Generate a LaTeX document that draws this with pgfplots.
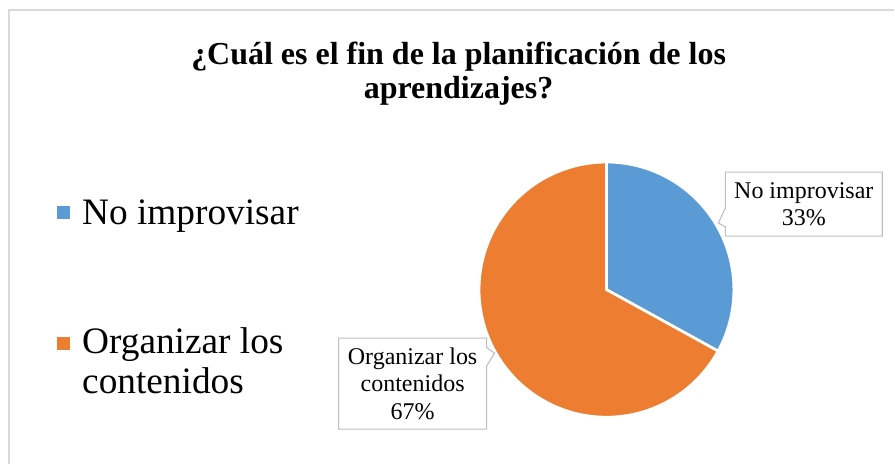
\documentclass[border=0pt]{standalone}
\usepackage{pgfplots}
\pgfplotsset{compat=1.18}
\usepackage{pgfplotstable}
\usepackage{fontspec}
\setmainfont{Liberation Serif}
\usetikzlibrary{shapes.callouts}
\definecolor{cblue}{HTML}{5B9BD5}
\definecolor{corange}{HTML}{ED7D31}
\definecolor{cframe}{HTML}{D9D9D9}
\definecolor{cbox}{HTML}{BFBFBF}
% data: percentage of answers
\pgfplotstableread{
label value
NoImprovisar 33
Organizar 67
}\piedata
\pgfplotstablegetelem{0}{value}\of\piedata \let\valA\pgfplotsretval
\pgfplotstablegetelem{1}{value}\of\piedata \let\valB\pgfplotsretval
\pgfmathsetmacro{\angA}{90-360*\valA/(\valA+\valB)}
\begin{document}
\begin{tikzpicture}
\begin{axis}[
  scale only axis, width=671.25pt, height=348pt,
  xmin=0, xmax=895, ymin=0, ymax=464,
  hide axis, clip=false,
]
\path (axis cs:0,0) rectangle (axis cs:895,464);
% frame
\draw[cframe, line width=1.2pt] (axis cs:9,0) -- (axis cs:9,454) -- (axis cs:895,454);
% pie slices
\addplot[fill=cblue, draw=white, line width=2pt, domain=\angA:90, samples=90]
  ({607+127.5*cos(x)},{174.5+127.5*sin(x)}) -- (axis cs:607,174.5) -- cycle;
\addplot[fill=corange, draw=white, line width=2pt, domain=-270:\angA, samples=150]
  ({607+127.5*cos(x)},{174.5+127.5*sin(x)}) -- (axis cs:607,174.5) -- cycle;
% title
\node[font=\fontsize{24}{25}\selectfont\bfseries, align=center, anchor=base]
  at (axis cs:459,366) {¿Cuál es el fin de la planificación de los\\aprendizajes?};
% legend
\fill[cblue] (axis cs:57,245) rectangle (axis cs:70,258);
\fill[corange] (axis cs:57,114) rectangle (axis cs:70,127);
\node[font=\fontsize{28}{30}\selectfont, anchor=base west, inner sep=0pt] at (axis cs:82,240) {No improvisar};
\node[font=\fontsize{28}{30}\selectfont, anchor=base west, inner sep=0pt] at (axis cs:82,111) {Organizar los};
\node[font=\fontsize{28}{30}\selectfont, anchor=base west, inner sep=0pt] at (axis cs:82,71) {contenidos};
% data labels
\node[rectangle callout, draw=cbox, fill=white, line width=0.8pt,
  minimum width=117.75pt, minimum height=48pt, inner sep=2pt,
  callout absolute pointer={(axis cs:719,241)}, callout pointer width=14pt,
  font=\fontsize{18}{20.5}\selectfont, align=center]
  at (axis cs:804.5,260) {No improvisar\\33\%};
\node[rectangle callout, draw=cbox, fill=white, line width=0.8pt,
  minimum width=111pt, minimum height=68.25pt, inner sep=2pt,
  callout absolute pointer={(axis cs:495,111)}, callout pointer width=14pt,
  font=\fontsize{18}{20.5}\selectfont, align=center]
  at (axis cs:413,80.5) {Organizar los\\contenidos\\67\%};
\end{axis}
\end{tikzpicture}
\end{document}
